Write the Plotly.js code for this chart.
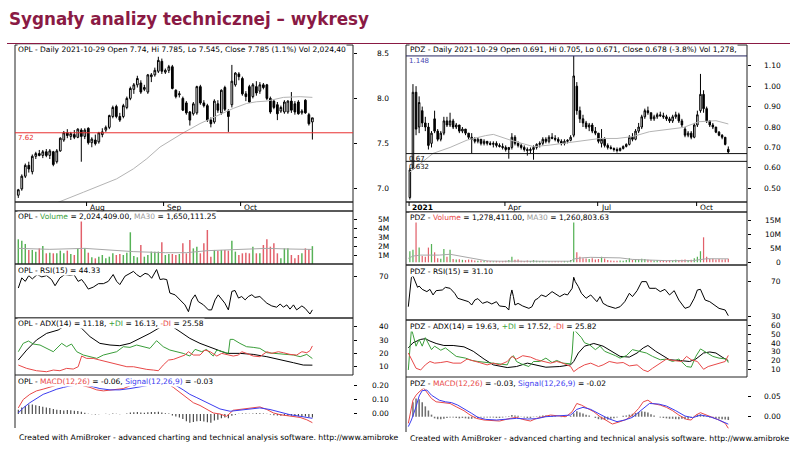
<!DOCTYPE html>
<html><head><meta charset="utf-8">
<script src="https://cdn.plot.ly/plotly-3.0.1.min.js"></script>
<style>html,body{margin:0;padding:0;background:#fff}#chart{width:800px;height:451px}</style>
</head><body><div id="chart"></div>
<script>
// ---------------- OPL (daily, Jul-Oct 2021) ----------------
const opl_open = [6.93,7.0,7.14,7.26,7.19,7.36,7.39,7.37,7.41,7.37, 7.41,7.3,7.42,7.54,7.62,7.58,7.6,7.57,7.65,7.58, 7.67,7.51,7.54,7.52,7.6,7.65,7.68,7.8,7.91,7.8, 7.8,7.9,8.0,8.1,8.15,8.17,8.1,8.07,8.24,8.26, 8.3,8.41,8.29,8.31,8.35,8.09,8.04,8.0,7.95,7.85, 7.83,7.84,8.13,7.95,7.92,7.76,7.74,7.94,7.84,8.12, 7.86,7.93,8.15,8.27,8.22,8.05,8.13,8.02,8.13,8.08, 8.15,8.15,8.0,7.97,7.93,7.86,7.85,7.85,7.97,7.94, 7.96,7.84,7.98,7.82,7.74];
const opl_high = [7.0,7.16,7.28,7.3,7.38,7.41,7.43,7.43,7.44,7.44, 7.42,7.44,7.57,7.64,7.66,7.63,7.65,7.67,7.67,7.67, 7.68,7.57,7.6,7.63,7.67,7.7,7.82,7.92,7.93,7.84, 7.94,8.02,8.13,8.17,8.25,8.2,8.15,8.27,8.28,8.34, 8.46,8.44,8.33,8.37,8.37,8.1,8.08,8.02,7.97,7.86, 7.96,8.14,8.15,7.98,7.94,7.79,7.99,7.98,8.1,8.14, 7.88,8.37,8.29,8.29,8.24,8.08,8.15,8.17,8.19,8.18, 8.17,8.16,8.02,7.98,7.96,7.92,7.98,7.98,8.07,7.97, 7.98,7.88,7.99,7.84,7.785];
const opl_low = [6.9,6.98,7.12,7.18,7.16,7.33,7.36,7.34,7.35,7.33, 7.25,7.28,7.41,7.52,7.56,7.54,7.55,7.56,7.3,7.55, 7.49,7.46,7.48,7.5,7.57,7.63,7.66,7.78,7.78,7.74, 7.78,7.88,7.98,8.05,8.12,8.05,8.08,8.05,8.18,8.24, 8.28,8.27,8.27,8.28,8.1,8.0,8.01,7.86,7.82,7.7, 7.81,7.82,7.93,7.9,7.74,7.68,7.72,7.84,7.82,7.86, 7.63,7.9,8.13,8.2,8.03,7.97,7.95,8.0,8.03,8.05, 8.1,7.98,7.83,7.88,7.76,7.84,7.83,7.83,7.84,7.82, 7.82,7.82,7.83,7.7,7.545];
const opl_close = [6.99,7.14,7.26,7.22,7.36,7.39,7.37,7.41,7.37,7.42, 7.27,7.42,7.56,7.62,7.59,7.61,7.57,7.66,7.58,7.65, 7.51,7.55,7.5,7.62,7.63,7.68,7.81,7.9,7.8,7.76, 7.92,8.0,8.11,8.15,8.22,8.07,8.12,8.26,8.26,8.31, 8.42,8.3,8.31,8.35,8.11,8.02,8.05,7.87,7.84,7.76, 7.94,8.13,7.95,7.92,7.76,7.72,7.97,7.87,8.09,7.88, 7.8,8.19,8.28,8.24,8.05,8.02,7.96,8.15,8.06,8.15, 8.12,8.0,7.85,7.9,7.83,7.9,7.96,7.97,7.87,7.85, 7.83,7.86,7.84,7.72,7.785];
const opl_ma_x = [10,11.4,18.6,23.3,28.1,32.9,36.7,40.5,44.3,47.1,51.9,55.7,61.4,65.2,68.1,71,75.7,80.5,84];
const opl_ma   = [6.80,6.852,6.963,7.037,7.111,7.222,7.333,7.463,7.556,7.619,7.722,7.789,7.889,7.944,7.963,7.97,8.011,8.019,8.011];
const opl_levels = [7.62];
const opl_vol_m = [2.8,2.64,2.27,1.59,1.59,1.4,1.77,2.04,1.21,1.28, 1.21,1.21,1.51,1.21,1.51,1.13,1.02,1.77,4.9,1.77, 1.28,0.76,0.64,0.83,1.02,0.64,0.83,1.21,1.02,1.13, 1.02,1.28,3.59,0.91,0.76,2.15,0.83,1.02,1.4,1.4, 1.4,2.45,1.02,1.13,1.13,1.02,1.13,2.34,1.21,2.72, 1.77,1.96,1.21,2.34,3.85,0.83,1.59,1.51,1.59,1.59, 1.51,2.64,1.4,1.02,1.21,1.28,1.21,1.96,1.21,1.21, 2.15,2.8,1.96,2.34,1.21,0.64,1.77,1.77,1.02,0.64, 1.02,1.21,1.77,1.66,2.02];
const opl_volma_x = [0,9,19,23,33,42,48,54,61,71,77,84];
const opl_volma   = [1.77,1.66,1.77,1.66,1.4,1.28,1.28,1.51,1.59,1.77,1.7,1.65];
const opl_rsi_x = [0,1,2,3,4,5.4,6.7,8.1,9.5,10.5,11.9,13.3,14.8,15.9,17.1,18.1,19,20,21.4,22.9,24.3,25.7,27.1,28.1,29,30.5,31.9,32.9,33.8,34.8,36.2,37.1,38.1,39.5,40.5,41.4,42.4,43.3,44.8,46.2,47.6,48.6,49.5,50.5,51.4,52.9,54.3,55.2,56.2,57.1,58.1,59,60,61,61.9,62.9,63.8,64.8,65.7,66.7,67.6,69,70,71,72.4,73.8,74.8,75.7,76.7,77.6,78.6,79.5,81,81.9,83.3,84];
const opl_rsi   = [61.3,69.2,66.5,71,68.4,71.8,70,71,67.9,63.1,69.2,71.8,71,71.8,66.5,67.9,64.7,60.5,62,64.7,64.7,66.5,71.8,66.5,64,70.6,72.7,74.3,71.8,70,72.7,72,68.9,75.7,67.9,68.4,67.9,57.4,56,52.1,48.2,42.9,52.1,56,50.8,48.2,44.3,44.3,52.1,56,52.1,49.5,44.3,58.7,59.4,53.5,54.7,52.1,54.7,56.1,54,54.7,52.1,49.5,47.4,46.4,48.9,46.4,48.2,44.9,48.2,44.3,47.4,45.6,41.1,44.33];
const opl_adx_x = [0,2.4,5.2,8.1,11.4,12.9,15.2,18.1,20.5,23.3,26.2,29,31.9,34.8,37.6,40.5,42.9,46.2,49,51.9,55.7,59.5,63.3,67.1,71,74.8,78.6,81.4,84];
const opl_adx   = [15,22.5,30,35,37.5,40,43,38.75,32.5,27.5,26.25,25.75,27.5,31.25,35,39.5,42,36.25,31.25,27.5,23.75,20,20,19.25,17.5,15,13,11.25,11.18];
const opl_pdi_x = [0,1.4,2.9,4.3,6.2,8.1,10,12.4,13.8,15.2,16.7,18.6,20.5,22.4,24.3,26.2,28.1,30,31.9,33.8,35.7,37.6,39.5,41.4,43.3,45.2,47.1,49,50.5,52.4,53.8,54.8,55.7,56.7,58.6,60,60.5,61.4,63.3,65.2,67.1,69,71,72.9,75.7,78.6,80.5,82.4,84];
const opl_pdi   = [21.25,27.5,29.25,27,26.25,23.75,21.25,27.5,25,27,21.25,18.75,17.5,16.25,18.75,20,21.25,25,24.5,26.25,25,23.75,29.5,25,22.5,21.25,20,18,23,21.25,23,20,18,22.5,21.25,20,30.5,30.5,27.5,25,24.5,23.75,20.5,20,19.25,18.75,17.5,19.25,16.13];
const opl_mdi_x = [0,2.4,5.2,8.1,10,11.9,13.8,15.7,17.1,18.1,19.5,21.4,23.3,25.2,27.1,29,31,32.9,34.8,36.7,38.6,40,41.4,42.9,44.3,46.2,47.6,48.6,50,51.9,53.3,54.8,56.7,58.1,59.5,61.4,62.9,63.8,65.2,67.1,69,71,72.4,74.3,75.7,77.6,79.5,81,82.4,83.3,84];
const opl_mdi   = [11.25,8.75,7,6.25,7.5,7,8.75,8.25,10,18,16.25,16.25,15,13.75,12.5,11.75,10,10,8.75,8,7.5,7,11.25,15,15.5,17.5,18.75,21.25,18.75,18.75,22.5,21.25,18,20,19.25,18,18.75,21.25,20,18,17.5,21.25,20,21.25,20.5,19.25,18.75,21.25,20.5,22,25.58];
const opl_macd_x = [0,1.4,3.3,5.2,7.1,9,11,12.9,14.8,16.7,18.6,20.5,22.4,24.3,26.2,28.1,30,31.9,33.8,35.7,37.6,39.5,41.4,42.9,44.3,46.2,48.1,50,51.9,53.8,55.7,57.6,59.5,61.4,63.3,65.2,67.1,69,71,72.9,74.8,76.7,78.6,80.5,82.4,84];
const opl_macd   = [0.042,0.10,0.136,0.16,0.172,0.184,0.2,0.224,0.23,0.219,0.195,0.184,0.167,0.16,0.167,0.172,0.176,0.195,0.214,0.219,0.224,0.23,0.219,0.207,0.184,0.148,0.113,0.078,0.059,0.031,0.007,0.0,-0.016,0.026,0.031,0.035,0.042,0.049,0.031,0.007,-0.005,-0.012,-0.016,-0.024,-0.04,-0.06];
const opl_sig_x = [0,1.4,3.3,5.2,7.1,9,11,12.9,14.8,17.6,19.5,21.4,23.3,26.2,29,31.9,34.8,37.6,39.5,41.4,43.3,45.2,47.1,49,51,52.9,54.8,57.6,60.5,63.3,66.2,69,71.9,74.8,77.6,80.5,82.4,84];
const opl_sig   = [0.007,0.042,0.078,0.106,0.136,0.153,0.172,0.184,0.195,0.202,0.2,0.188,0.176,0.167,0.167,0.176,0.19,0.2,0.207,0.219,0.207,0.195,0.167,0.136,0.113,0.089,0.066,0.035,0.019,0.026,0.035,0.042,0.031,0.012,-0.005,-0.016,-0.024,-0.03];
const opl_hist = [0.03,0.045,0.055,0.065,0.066,0.06,0.055,0.05,0.045,0.042, 0.035,0.03,0.028,0.025,0.028,0.026,0.022,0.02,0.015,0.008, 0.002,-0.002,-0.004,-0.002,0.0,0.002,-0.001,0.003,0.002,-0.002, 0.0,0.004,0.01,0.012,0.014,0.01,0.008,0.012,0.014,0.013, 0.016,0.01,0.006,0.004,-0.01,-0.018,-0.025,-0.035,-0.05,-0.06, -0.055,-0.05,-0.048,-0.052,-0.058,-0.06,-0.045,-0.04,-0.03,-0.025, -0.03,-0.012,-0.005,0.002,0.004,0.003,0.002,0.004,0.006,0.005, 0.004,0.001,-0.004,-0.008,-0.01,-0.012,-0.01,-0.014,-0.012,-0.015, -0.016,-0.018,-0.017,-0.02,-0.025];
const opl_month_idx = [20,42,64];
const opl_month_lbl = ['Aug','Sep','Oct'];

// ---------------- PDZ (every 2nd session, Jan-Oct 2021) ----------------
const pdz_open = [0.455,0.60,0.97,0.80,0.88,0.82,0.80,0.72,0.84,0.78, 0.74,0.77,0.83,0.81,0.83,0.80,0.81,0.78,0.79,0.77, 0.75,0.74,0.73,0.74,0.72,0.73,0.72,0.715,0.72,0.71, 0.705,0.70,0.69,0.70,0.75,0.72,0.71,0.70,0.69,0.685, 0.69,0.70,0.715,0.72,0.74,0.73,0.75,0.745,0.74,0.73, 0.72,0.73,0.735,0.76,1.00,0.88,0.84,0.82,0.80,0.81, 0.78,0.77,0.72,0.74,0.71,0.70,0.695,0.69,0.685,0.695, 0.705,0.715,0.75,0.74,0.78,0.80,0.85,0.88,0.87,0.84, 0.85,0.86,0.855,0.85,0.84,0.83,0.85,0.86,0.83,0.79, 0.76,0.77,0.75,0.81,0.88,0.96,0.89,0.83,0.81,0.80, 0.775,0.76,0.75,0.691];
const pdz_high = [0.60,1.01,1.00,0.95,0.90,0.85,0.82,0.78,0.88,0.79, 0.78,0.85,0.85,0.87,0.84,0.82,0.81,0.80,0.79,0.77, 0.77,0.75,0.75,0.74,0.74,0.73,0.73,0.73,0.73,0.72, 0.72,0.71,0.70,0.77,0.76,0.73,0.72,0.71,0.70,0.70, 0.71,0.72,0.73,0.75,0.75,0.76,0.77,0.76,0.75,0.74, 0.74,0.74,0.76,1.148,1.02,0.90,0.86,0.83,0.82,0.82, 0.80,0.77,0.79,0.75,0.72,0.71,0.70,0.70,0.70,0.71, 0.72,0.76,0.77,0.79,0.82,0.86,0.89,0.90,0.87,0.86, 0.87,0.875,0.87,0.86,0.85,0.86,0.875,0.87,0.84,0.80, 0.78,0.78,0.82,0.88,1.06,0.98,0.90,0.83,0.82,0.80, 0.78,0.765,0.75,0.705];
const pdz_low = [0.445,0.59,0.76,0.77,0.80,0.78,0.69,0.70,0.77,0.73, 0.73,0.76,0.80,0.80,0.79,0.79,0.77,0.77,0.76,0.74, 0.67,0.72,0.72,0.71,0.71,0.71,0.71,0.70,0.70,0.70, 0.69,0.68,0.645,0.69,0.71,0.70,0.69,0.68,0.66,0.67, 0.64,0.69,0.70,0.71,0.72,0.72,0.74,0.73,0.72,0.71, 0.71,0.72,0.73,0.75,0.86,0.82,0.80,0.79,0.78,0.77, 0.76,0.72,0.70,0.70,0.69,0.69,0.68,0.675,0.68,0.69, 0.70,0.71,0.73,0.735,0.77,0.79,0.84,0.86,0.83,0.83, 0.84,0.85,0.84,0.83,0.82,0.82,0.84,0.82,0.80,0.75, 0.75,0.74,0.745,0.80,0.87,0.87,0.82,0.80,0.79,0.77, 0.755,0.74,0.71,0.671];
const pdz_close = [0.59,0.97,0.79,0.92,0.82,0.80,0.71,0.77,0.78,0.74, 0.77,0.83,0.81,0.83,0.80,0.81,0.78,0.79,0.77,0.75, 0.74,0.73,0.74,0.72,0.73,0.72,0.715,0.72,0.71,0.705, 0.70,0.69,0.70,0.75,0.72,0.71,0.70,0.69,0.685,0.69, 0.70,0.715,0.72,0.74,0.73,0.75,0.745,0.74,0.73,0.72, 0.73,0.735,0.75,1.05,0.88,0.84,0.82,0.80,0.81,0.78, 0.77,0.73,0.74,0.71,0.70,0.695,0.69,0.685,0.695,0.705, 0.715,0.75,0.74,0.78,0.80,0.85,0.88,0.87,0.84,0.85, 0.86,0.855,0.85,0.84,0.83,0.85,0.86,0.83,0.81,0.76, 0.77,0.75,0.81,0.86,0.96,0.89,0.83,0.81,0.80,0.775, 0.76,0.75,0.715,0.678];
const pdz_ma_x = [1,16,27,38,50,55,66,81,92,107,115,124,135,145,156,167,178,188,199,207];
const pdz_ma   = [0.58,0.671,0.70,0.736,0.758,0.764,0.736,0.704,0.712,0.728,0.736,0.744,0.744,0.753,0.777,0.788,0.798,0.826,0.831,0.815];
const pdz_levels = [1.148,0.67,0.632];
const pdz_vol_m = [4.0,4.5,17.5,5.3,2.25,2.0,5.3,6.6,3.6,1.5, 1.3,4.8,2.0,4.5,1.2,1.0,1.1,0.9,0.8,1.0, 0.9,0.7,0.6,0.7,0.5,0.6,0.5,0.4,0.5,0.4, 0.5,0.6,0.8,2.0,0.9,1.0,0.6,0.5,0.7,0.5, 0.8,0.6,0.5,0.6,0.4,0.5,0.4,0.5,0.4,0.4, 0.5,0.4,0.8,15.5,3.6,2.0,1.5,1.4,1.2,1.5, 1.0,1.2,2.0,1.4,0.8,0.7,0.6,0.6,0.7,0.6, 0.8,1.5,0.9,1.1,1.0,1.3,1.2,0.9,0.8,0.7, 0.8,0.6,0.7,0.6,0.8,0.7,0.9,0.8,0.9,1.0, 0.8,0.9,1.5,2.0,4.0,9.0,2.0,1.2,1.3,1.0, 1.2,1.0,1.1,1.28];
const pdz_volma_x = [0,3,8,20,27,30,38,45,51,60,80,100,105,107,112,118,130,137,145,160,167,184,189,193,207];
const pdz_volma   = [1.43,2.25,2.6,2.6,2.9,2.6,1.6,1.0,0.5,0.4,0.35,0.35,0.4,1.2,1.6,1.8,1.8,1.6,1.05,0.8,0.6,0.6,1.0,1.3,1.26];
const pdz_rsi_x = [0,2,3,5,6,7,9,12,14,16,18,22,24,27,30,32,36,39,41,43,45,48,51,54,57,59,63,65,66,67,68,69,71,74,78,80,82,84,86,89,93,96,98,101,103,106,107,108,110,112,115,118,122,124,126,129,134,137,140,143,145,148,151,154,156,160,163,166,169,172,175,179,182,185,187,189,192,195,198,201,205,207];
const pdz_rsi   = [41.4,75,76.5,66.2,63.5,65,61.2,58.6,61.2,54.8,59.7,60.5,63.5,62.4,56.7,51,49,47.1,43.3,49,50.6,45.2,47.1,44.5,47.1,42.2,41.4,37.6,52.9,60.5,52.9,43.3,45.2,42.2,39.5,41.4,49,51,54.8,52.9,58.6,54.8,52.9,55.9,54.8,62.4,75,70,64.3,56.7,51,54.8,47.1,52.9,45.2,42.2,39.5,41.4,47.1,56.7,52.9,59.7,70,70,62.4,62.4,58.6,61.2,54.8,59.7,49,39.5,41.4,51,60.5,61.2,49,47.1,43.3,39.5,37.6,31.1];
const pdz_adx_x = [0,3,8,11,14,18,23,29,36,42,49,55,64,70,77,83,89,98,105,107,110,114,120,126,132,137,143,148,152,155,160,165,169,175,182,186,191,195,199,203,207];
const pdz_adx   = [34.5,40.4,44.3,45.1,42.4,39.6,37.3,37.3,35.7,30.6,21.6,14.9,11.8,13,16.9,14.9,12.2,13,14.9,18.8,28.6,36.5,39.6,36.5,30.6,24.7,23.9,28.6,34.5,37.3,30.6,24.7,20.8,20,18.8,21.6,28.6,29.8,28.6,23.9,19.63];
const pdz_pdi_x = [0,2,3,5,7,9,11,13,15,17,21,24,27,31,37,41,45,50,54,59,64,66,68,70,73,78,81,85,89,93,96,100,105,106,107,108,110,112,114,117,121,124,127,130,134,137,141,145,150,154,158,163,167,171,175,180,183,186,189,193,197,201,206,207];
const pdz_pdi   = [9,56,50.2,36.5,44.3,36.5,46.3,38.4,32.5,36.5,31.8,34.5,30.6,24.7,22.7,20,18.8,17.6,16.9,16.1,14.9,22.7,25.5,18.8,16.1,13,18.8,18.8,22.7,17.6,20,16.9,16.1,28.6,56,54.1,50.2,46.3,40.4,38.4,32.5,36.5,30.6,28.6,25.5,22.7,25.5,32.5,30.6,28.6,24.7,20.8,21.6,18.8,21.6,13,12.2,24.7,33.3,28.6,24.7,22.7,21.6,17.52];
const pdz_mdi_x = [0,2,5,8,11,14,17,21,25,29,34,38,42,46,51,55,59,64,67,70,74,79,83,87,92,96,100,105,107,110,114,118,123,126,130,135,139,143,148,152,155,158,163,167,171,177,180,183,187,191,194,198,201,205,207];
const pdz_mdi   = [28.6,20.8,11,9,14.9,18.8,16.9,17.6,18.8,16.9,16.9,21.6,20,17.6,14.9,16.9,14.9,18.8,24.7,21.6,25.5,23.9,20.8,18.8,16.9,18.8,16.9,13,7.1,11,14.9,16.9,13,14.9,18.8,16.9,17.6,13.7,14.9,9,7.1,11,16.9,21.6,20,18.8,24.7,20.8,18.8,9.8,13,14.9,16.9,18.8,25.82];
const pdz_macd_x = [0,2,3,5,7,10,12,15,18,23,27,31,36,40,44,49,53,59,66,70,74,79,83,87,92,98,102,106,109,112,115,120,124,128,132,137,141,145,149,152,155,158,163,167,171,175,180,183,186,189,193,197,201,205,207];
const pdz_macd   = [-0.016,0.016,0.04,0.052,0.06,0.069,0.06,0.044,0.036,0.034,0.032,0.024,0.0145,0.004,-0.004,-0.008,-0.0097,-0.0105,-0.004,-0.0016,-0.0065,-0.0105,-0.004,0,0.004,0.0016,0,0.012,0.032,0.028,0.0226,0.012,0,-0.0097,-0.0177,-0.012,-0.0065,0.004,0.02,0.036,0.04,0.032,0.028,0.0226,0.0145,0.004,-0.0065,-0.008,0.004,0.0097,0.004,-0.0016,-0.008,-0.016,-0.028];
const pdz_sig_x = [0,2,5,7,9,12,15,20,24,28,32,37,41,45,50,57,64,70,77,83,89,98,105,109,113,118,124,129,135,140,145,151,156,162,167,173,179,184,189,195,200,207];
const pdz_sig   = [-0.024,-0.008,0.024,0.05,0.063,0.0645,0.052,0.04,0.036,0.034,0.028,0.0177,0.008,-0.0016,-0.0065,-0.008,-0.0065,-0.004,-0.0056,-0.0048,0,0.0024,0.004,0.0177,0.0226,0.0177,0.0065,-0.004,-0.012,-0.008,-0.0016,0.016,0.032,0.0306,0.0258,0.0145,0.0016,-0.0024,0.004,0,-0.0065,-0.018];
const pdz_hist = [0.0,0.035,0.044,0.042,0.035,0.025,0.015,0.005,-0.004,-0.006, -0.006,-0.005,-0.003,-0.002,-0.002,-0.003,-0.004,-0.003,-0.004,-0.005, -0.005,-0.004,-0.003,-0.002,-0.002,-0.002,-0.002,-0.002,-0.003,-0.003, -0.002,-0.001,0.001,0.004,0.003,0.002,-0.001,-0.002,-0.003,-0.003, -0.001,0.001,0.002,0.003,0.003,0.003,0.002,0.001,0.0,-0.001, -0.001,0.0,0.002,0.008,0.013,0.01,0.008,0.005,0.003,0.0, -0.003,-0.006,-0.007,-0.008,-0.007,-0.005,-0.004,-0.002,0.0,0.002, 0.003,0.005,0.007,0.009,0.011,0.013,0.012,0.01,0.006,0.003, 0.0,-0.002,-0.003,-0.004,-0.005,-0.005,-0.006,-0.006,-0.005,-0.006, -0.005,-0.003,0.002,0.005,0.006,0.004,0.001,-0.002,-0.003,-0.004, -0.005,-0.006,-0.007,-0.008];
const pdz_month_idx = [1,63,123,187];
const pdz_month_lbl = ['<b>2021</b>','Apr','Jul','Oct'];

// ---------------- drawing ----------------
const W = 800, H = 451;
const fx = v => v / W, fy = v => 1 - v / H;
const FONT = 'DejaVu Sans';
const MAROON = '#8a1a44', GREEN = '#3a9e3a', RED = '#e84848', BLUE = '#3c3cf0', GRAY = '#b4b4b4';
const VGREEN = '#56b256', VRED = '#e2606a';
const TS = 7.5;
const opl_idx = opl_close.map((_, i) => i);
const pdz_idx = pdz_close.map((_, i) => 2 * i + 1);
const upDown = (o, c) => o.map((v, i) => c[i] >= v ? VGREEN : VRED);

const traces = [];
function candles(x, o, h, l, c, xa, ya) {
  traces.push({type: 'candlestick', x: x, open: o, high: h, low: l, close: c, xaxis: xa, yaxis: ya,
    increasing: {line: {color: '#000', width: 1}, fillcolor: '#fff'},
    decreasing: {line: {color: '#000', width: 1}, fillcolor: '#000'},
    whiskerwidth: 0, hoverinfo: 'skip'});
}
function line(x, y, color, xa, ya) {
  traces.push({type: 'scatter', mode: 'lines', x: x, y: y, xaxis: xa, yaxis: ya,
    line: {color: color, width: 1}, hoverinfo: 'skip'});
}
function bars(x, y, color, w, xa, ya) {
  traces.push({type: 'bar', x: x, y: y, xaxis: xa, yaxis: ya, width: w,
    marker: {color: color, line: {width: 0}}, hoverinfo: 'skip'});
}

// OPL
candles(opl_idx, opl_open, opl_high, opl_low, opl_close, 'x', 'y');
line(opl_ma_x, opl_ma, GRAY, 'x', 'y');
bars(opl_idx, opl_vol_m, upDown(opl_open, opl_close), 0.42, 'x', 'y2');
line(opl_volma_x, opl_volma, '#a8a8a8', 'x', 'y2');
line(opl_rsi_x, opl_rsi, '#000', 'x', 'y3');
line(opl_adx_x, opl_adx, '#000', 'x', 'y4');
line(opl_pdi_x, opl_pdi, GREEN, 'x', 'y4');
line(opl_mdi_x, opl_mdi, RED, 'x', 'y4');
bars(opl_idx, opl_hist, '#333', 0.3, 'x', 'y5');
line(opl_macd_x, opl_macd, RED, 'x', 'y5');
line(opl_sig_x, opl_sig, BLUE, 'x', 'y5');
// PDZ
candles(pdz_idx, pdz_open, pdz_high, pdz_low, pdz_close, 'x2', 'y6');
line(pdz_ma_x, pdz_ma, GRAY, 'x2', 'y6');
bars(pdz_idx, pdz_vol_m, upDown(pdz_open, pdz_close), 0.8, 'x2', 'y7');
line(pdz_volma_x, pdz_volma, '#a8a8a8', 'x2', 'y7');
line(pdz_rsi_x, pdz_rsi, '#000', 'x2', 'y8');
line(pdz_adx_x, pdz_adx, '#000', 'x2', 'y9');
line(pdz_pdi_x, pdz_pdi, GREEN, 'x2', 'y9');
line(pdz_mdi_x, pdz_mdi, RED, 'x2', 'y9');
bars(pdz_idx, pdz_hist, '#707070', 1.0, 'x2', 'y10');
line(pdz_macd_x, pdz_macd, RED, 'x2', 'y10');
line(pdz_sig_x, pdz_sig, BLUE, 'x2', 'y10');

// panel geometry (px)
const L = {x0: 15, x1: 353, lab: 391};
const R = {x0: 406, x1: 747, lab: 783};
function xax(p, range) {
  return {domain: [fx(p.x0), fx(p.x1)], range: range, visible: false, fixedrange: true, rangeslider: {visible: false}};
}
function yax(top, bot, range, anchor, tickvals) {
  return {domain: [fy(bot), fy(top)], range: range, anchor: anchor, side: 'right', ticks: 'outside', ticklen: 3,
    tickwidth: 1, tickcolor: '#000', tickvals: tickvals, showticklabels: false, showgrid: false, zeroline: false,
    showline: false, fixedrange: true};
}
const ticks = {
  y:  {v: [7.0, 7.5, 8.0, 8.5], t: ['7.0', '7.5', '8.0', '8.5']},
  y2: {v: [1, 2, 3, 4, 5], t: ['1M', '2M', '3M', '4M', '5M']},
  y3: {v: [70], t: ['70']},
  y4: {v: [10, 20, 30, 40], t: ['10', '20', '30', '40']},
  y5: {v: [0, 0.1, 0.2], t: ['0.00', '0.10', '0.20']},
  y6: {v: [0.5, 0.6, 0.7, 0.8, 0.9, 1.0, 1.1], t: ['0.50', '0.60', '0.70', '0.80', '0.90', '1.00', '1.10']},
  y7: {v: [0, 5, 10, 15], t: ['0', '5M', '10M', '15M']},
  y8: {v: [30, 70], t: ['30', '70']},
  y9: {v: [10, 20, 30, 40, 50, 60], t: ['10', '20', '30', '40', '50', '60']},
  y10: {v: [0, 0.05], t: ['0.00', '0.05']}
};
const layout = {
  width: W, height: H, margin: {l: 0, r: 0, t: 0, b: 0}, paper_bgcolor: '#fff', plot_bgcolor: 'rgba(0,0,0,0)',
  showlegend: false, barmode: 'overlay', font: {family: FONT, size: TS, color: '#000'},
  xaxis: xax(L, [-0.94, 95.6]),
  xaxis2: xax(R, [-1.5, 219.1]),
  yaxis:  yax(45, 202, [6.855, 8.59], 'x', ticks.y.v),
  yaxis2: yax(211, 264, [0, 6.0], 'x', ticks.y2.v),
  yaxis3: yax(264, 318, [38, 80], 'x', ticks.y3.v),
  yaxis4: yax(318, 375, [3.8, 46.5], 'x', ticks.y4.v),
  yaxis5: yax(375, 428, [-0.097, 0.27], 'x', ticks.y5.v),
  yaxis6: yax(45, 202, [0.433, 1.2015], 'x2', ticks.y6.v),
  yaxis7: yax(212, 265, [-0.96, 18.1], 'x2', ticks.y7.v),
  yaxis8: yax(265, 320, [26.2, 89], 'x2', ticks.y8.v),
  yaxis9: yax(320, 377, [0.9, 66.7], 'x2', ticks.y9.v),
  yaxis10: yax(377, 432, [-0.037, 0.096], 'x2', ticks.y10.v),
  shapes: [], annotations: []
};
const S = layout.shapes, A = layout.annotations;
const frame = {color: '#222', width: 1};
function rect(p, top, bot) {
  S.push({type: 'rect', xref: 'paper', yref: 'paper', x0: fx(p.x0), x1: fx(p.x1), y0: fy(bot), y1: fy(top), line: frame, layer: 'above'});
}
[[45, 202], [202, 211], [211, 264], [264, 318], [318, 375]].forEach(r => rect(L, r[0], r[1]));
[[45, 202], [202, 212], [212, 265], [265, 320], [320, 377]].forEach(r => rect(R, r[0], r[1]));
S.push({type: 'line', xref: 'paper', yref: 'paper', x0: fx(L.x0), x1: fx(L.x0), y0: fy(428), y1: fy(375), line: frame});
S.push({type: 'line', xref: 'paper', yref: 'paper', x0: fx(R.x0), x1: fx(R.x0), y0: fy(432), y1: fy(377), line: frame});
// header rule
S.push({type: 'line', xref: 'paper', yref: 'paper', x0: fx(7), x1: fx(790), y0: fy(43.5), y1: fy(43.5), line: {color: MAROON, width: 1.2}});

// level lines
function level(p, ya, v, color, lblColor, txt) {
  S.push({type: 'line', xref: 'paper', yref: ya, x0: fx(p.x0), x1: fx(p.x1), y0: v, y1: v, line: {color: color, width: 1}});
  A.push({xref: 'paper', yref: ya, x: fx(p.x0 + 2), y: v, xanchor: 'left', yanchor: 'top', yshift: -0.5, showarrow: false,
    text: txt, height: 7, valign: 'middle', borderpad: 0, font: {size: 7, color: lblColor}});
}
level(L, 'y', opl_levels[0], '#e83030', '#e83030', opl_levels[0].toFixed(2));
level(R, 'y6', pdz_levels[0], '#23235e', '#4646b0', pdz_levels[0].toFixed(3));
level(R, 'y6', pdz_levels[1], '#111', '#111', pdz_levels[1].toFixed(2));
level(R, 'y6', pdz_levels[2], '#111', '#111', pdz_levels[2].toFixed(3));

// tick labels (right-aligned)
Object.keys(ticks).forEach(k => {
  const n = k === 'y' ? 1 : parseInt(k.slice(1));
  const p = n <= 5 ? L : R;
  ticks[k].v.forEach((v, i) => A.push({xref: 'paper', yref: k, x: fx(p.lab), y: v, xanchor: 'right', yanchor: 'middle',
    showarrow: false, text: ticks[k].t[i], font: {size: TS, color: '#000'}}));
});

// month labels in date strip
function months(idx, lbl, xa, top) {
  idx.forEach((m, i) => {
    S.push({type: 'line', xref: xa, yref: 'paper', x0: m - 0.5, x1: m - 0.5, y0: fy(top + 4), y1: fy(top), line: {color: '#000', width: 1}});
    A.push({xref: xa, yref: 'paper', x: m - 0.5, y: fy(top + 5), xanchor: 'left', yanchor: 'middle', xshift: 1,
      showarrow: false, text: lbl[i], font: {size: TS}});
  });
}
months(opl_month_idx, opl_month_lbl, 'x', 202);
months(pdz_month_idx, pdz_month_lbl, 'x2', 202);

// panel titles
function ttl(x, y, html) {
  A.push({xref: 'paper', yref: 'paper', x: fx(x), y: fy(y), xanchor: 'left', yanchor: 'middle', showarrow: false,
    text: html, bgcolor: '#fff', borderpad: 0, font: {size: TS}});
}
const c = (col, t) => '<span style="color:' + col + '">' + t + '</span>';
ttl(17, 50, 'OPL - Daily 2021-10-29 Open 7.74, Hi 7.785, Lo 7.545, Close 7.785 (1.1%) Vol 2,024,40');
ttl(17, 216.5, 'OPL - ' + c(GREEN, 'Volume') + ' = 2,024,409.00, ' + c('#999', 'MA30') + ' = 1,650,111.25');
ttl(17, 270, 'OPL - RSI(15) = 44.33');
ttl(17, 323.5, 'OPL - ADX(14) = 11.18, ' + c(GREEN, '+DI') + ' = 16.13, ' + c(RED, '-DI') + ' = 25.58');
ttl(17, 381.5, 'OPL - ' + c(RED, 'MACD(12,26)') + ' = -0.06, ' + c(BLUE, 'Signal(12,26,9)') + ' = -0.03');
ttl(409, 50, 'PDZ - Daily 2021-10-29 Open 0.691, Hi 0.705, Lo 0.671, Close 0.678 (-3.8%) Vol 1,278,');
ttl(409, 217, 'PDZ - ' + c(RED, 'Volume') + ' = 1,278,411.00, ' + c('#999', 'MA30') + ' = 1,260,803.63');
ttl(409, 271.5, 'PDZ - RSI(15) = 31.10');
ttl(409, 326, 'PDZ - ADX(14) = 19.63, ' + c(GREEN, '+DI') + ' = 17.52, ' + c(RED, '-DI') + ' = 25.82');
ttl(409, 383, 'PDZ - ' + c(RED, 'MACD(12,26)') + ' = -0.03, ' + c(BLUE, 'Signal(12,26,9)') + ' = -0.02');

// footers
const foot = 'Created with AmiBroker - advanced charting and technical analysis software. http://www.amibroke';
const FS = 7.7;
A.push({xref: 'paper', yref: 'paper', x: fx(17), y: fy(437), xanchor: 'left', yanchor: 'middle', showarrow: false, text: foot, font: {size: FS}});
A.push({xref: 'paper', yref: 'paper', x: fx(408), y: fy(438), xanchor: 'left', yanchor: 'middle', showarrow: false, text: foot, font: {size: FS}});

// main title
A.push({xref: 'paper', yref: 'paper', x: fx(7), y: fy(19), xanchor: 'left', yanchor: 'middle', showarrow: false,
  text: '<b>Sygnały analizy technicznej – wykresy</b>', font: {family: FONT, size: 16.8, color: MAROON}});

Plotly.newPlot('chart', traces, layout, {staticPlot: true, displayModeBar: false});
</script>
</body></html>
